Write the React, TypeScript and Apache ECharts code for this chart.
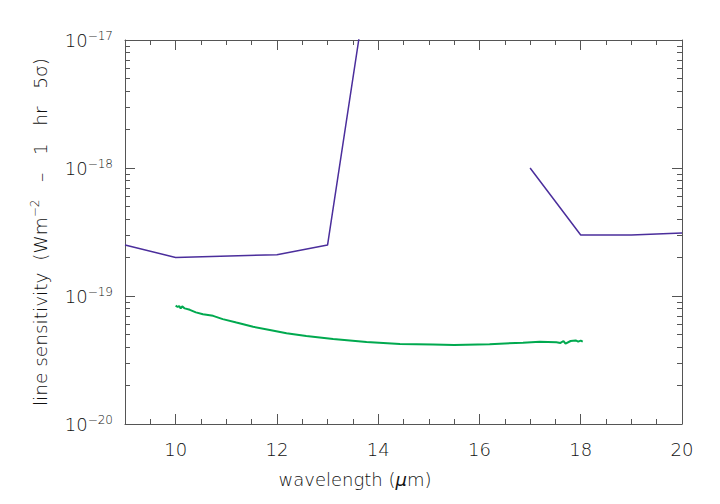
import React, { useEffect, useRef } from 'react';
import * as echarts from 'echarts';

// ---- tick values ----
const xMajorTicks = [10, 12, 14, 16, 18, 20];
const xMinorTicks = [9, 9.5, 10.5, 11, 11.5, 12.5, 13, 13.5, 14.5, 15, 15.5, 16.5, 17, 17.5, 18.5, 19, 19.5];
const yDecades = [1e-20, 1e-19, 1e-18, 1e-17];
const yMinorMultipliers = [2, 3, 4, 5, 6, 7, 8, 9];

// ---- data: purple sensitivity curve (two pieces) ----
const bandAWavelength = [9, 10, 12, 13, 14];
const bandASensitivity = [2.5e-19, 2.0e-19, 2.1e-19, 2.5e-19, 1e-16];
const bandBWavelength = [17, 18, 19, 20];
const bandBSensitivity = [1e-18, 3.0e-19, 3.0e-19, 3.1e-19];

// ---- data: green sensitivity curve ----
const greenWavelength = [
  10.0, 10.04, 10.07, 10.1, 10.13, 10.18, 10.28, 10.4, 10.54, 10.74, 10.93, 11.2, 11.53, 11.86,
  12.19, 12.58, 13.11, 13.77, 14.43, 15.08, 15.5, 16.2, 16.86, 17.19, 17.35, 17.52, 17.6, 17.66,
  17.7, 17.8, 17.9, 17.95, 18.0, 18.04,
];
const greenSensitivity = [
  8.4e-20, 8.2e-20, 8.35e-20, 8.0e-20, 8.3e-20, 8.0e-20, 7.8e-20, 7.45e-20, 7.2e-20, 7.0e-20, 6.6e-20,
  6.2e-20, 5.75e-20, 5.42e-20, 5.11e-20, 4.87e-20, 4.61e-20, 4.37e-20, 4.22e-20, 4.17e-20, 4.14e-20,
  4.2e-20, 4.32e-20, 4.4e-20, 4.38e-20, 4.35e-20, 4.3e-20, 4.45e-20, 4.25e-20, 4.45e-20, 4.5e-20,
  4.4e-20, 4.48e-20, 4.4e-20,
];

const FONT = 'DejaVu Sans';
const WEIGHT = 200;
const AXIS_COLOR = '#555';
const TEXT_COLOR = '#111';

const yMinorTicks: number[] = [];
yDecades.slice(0, 3).forEach((d) => yMinorMultipliers.forEach((m) => yMinorTicks.push(m * d)));

function pairs(xs: number[], ys: number[]) {
  return xs.map((x, i) => [x, ys[i]]);
}

const txt = (size: number, extra: any = {}) => ({
  fontFamily: FONT,
  fontWeight: WEIGHT,
  fontSize: size,
  color: TEXT_COLOR,
  ...extra,
});

function xAxisDef(position: 'top' | 'bottom', major: boolean, main: boolean) {
  return {
    type: 'value',
    min: 9,
    max: 20,
    position,
    axisLine: { show: major, onZero: false, lineStyle: { color: AXIS_COLOR, width: 1 } },
    axisTick: {
      show: true,
      inside: true,
      length: major ? 10 : 5,
      customValues: major ? xMajorTicks : xMinorTicks,
      lineStyle: { color: AXIS_COLOR, width: 1 },
    },
    axisLabel: main
      ? { show: true, customValues: xMajorTicks, ...txt(18), margin: 16 }
      : { show: false },
    splitLine: { show: false },
    ...(main
      ? {
          name: '{n|wavelength (}{i|μ}{n|m)}',
          nameLocation: 'middle',
          nameGap: 46,
          nameTextStyle: {
            padding: [0, 97, 0, 0],
            rich: {
              n: txt(18),
              i: txt(18, { fontStyle: 'italic' }),
            },
          },
        }
      : {}),
  };
}

function yAxisDef(position: 'left' | 'right', major: boolean, main: boolean) {
  return {
    type: 'log',
    logBase: 10,
    min: 1e-20,
    max: 1e-17,
    position,
    axisLine: { show: major, onZero: false, lineStyle: { color: AXIS_COLOR, width: 1 } },
    axisTick: {
      show: true,
      inside: true,
      length: major ? 10 : 5,
      customValues: major ? yDecades : yMinorTicks,
      lineStyle: { color: AXIS_COLOR, width: 1 },
    },
    axisLabel: main
      ? {
          show: true,
          customValues: yDecades,
          margin: 12,
          formatter: (v: number) => `{b|10}{s|−${Math.abs(Math.round(Math.log10(v)))}}`,
          rich: {
            b: txt(18, { lineHeight: 20 }),
            s: txt(12, { lineHeight: 12, verticalAlign: 'top' }),
          },
        }
      : { show: false },
    splitLine: { show: false },
    ...(main
      ? {
          name: '{n|line sensitivity  (Wm}{s|−2}{n|   –   1   hr   5σ)}',
          nameLocation: 'middle',
          nameRotate: 90,
          nameGap: 74,
          nameTextStyle: {
            rich: {
              n: txt(18.5, { lineHeight: 22 }),
              s: txt(12, { lineHeight: 12, verticalAlign: 'top' }),
            },
          },
        }
      : {}),
  };
}

export default function App() {
  const ref = useRef<HTMLDivElement>(null);
  useEffect(() => {
    if (!ref.current) return;
    const chart = echarts.init(ref.current, null, { renderer: 'svg' });
    chart.setOption({
      animation: false,
      backgroundColor: '#ffffff',
      grid: { left: 125, right: 38, top: 40, bottom: 80, show: false },
      xAxis: [
        xAxisDef('bottom', true, true),
        xAxisDef('bottom', false, false),
        xAxisDef('top', true, false),
        xAxisDef('top', false, false),
      ],
      yAxis: [
        yAxisDef('left', true, true),
        yAxisDef('left', false, false),
        yAxisDef('right', true, false),
        yAxisDef('right', false, false),
      ],
      series: [
        {
          type: 'line',
          xAxisIndex: 0,
          yAxisIndex: 0,
          data: pairs(bandAWavelength, bandASensitivity),
          showSymbol: false,
          symbol: 'none',
          lineStyle: { color: '#4B2E9C', width: 1.5 },
          clip: true,
        },
        {
          type: 'line',
          xAxisIndex: 0,
          yAxisIndex: 0,
          data: pairs(bandBWavelength, bandBSensitivity),
          showSymbol: false,
          symbol: 'none',
          lineStyle: { color: '#4B2E9C', width: 1.5 },
          clip: true,
        },
        {
          type: 'line',
          xAxisIndex: 0,
          yAxisIndex: 0,
          data: pairs(greenWavelength, greenSensitivity),
          showSymbol: false,
          symbol: 'none',
          lineStyle: { color: '#00A94F', width: 2 },
          clip: true,
        },
      ],
    });
    return () => chart.dispose();
  }, []);
  return <div ref={ref} style={{ width: 720, height: 504, position: 'absolute', left: 0, top: 0 }} />;
}
